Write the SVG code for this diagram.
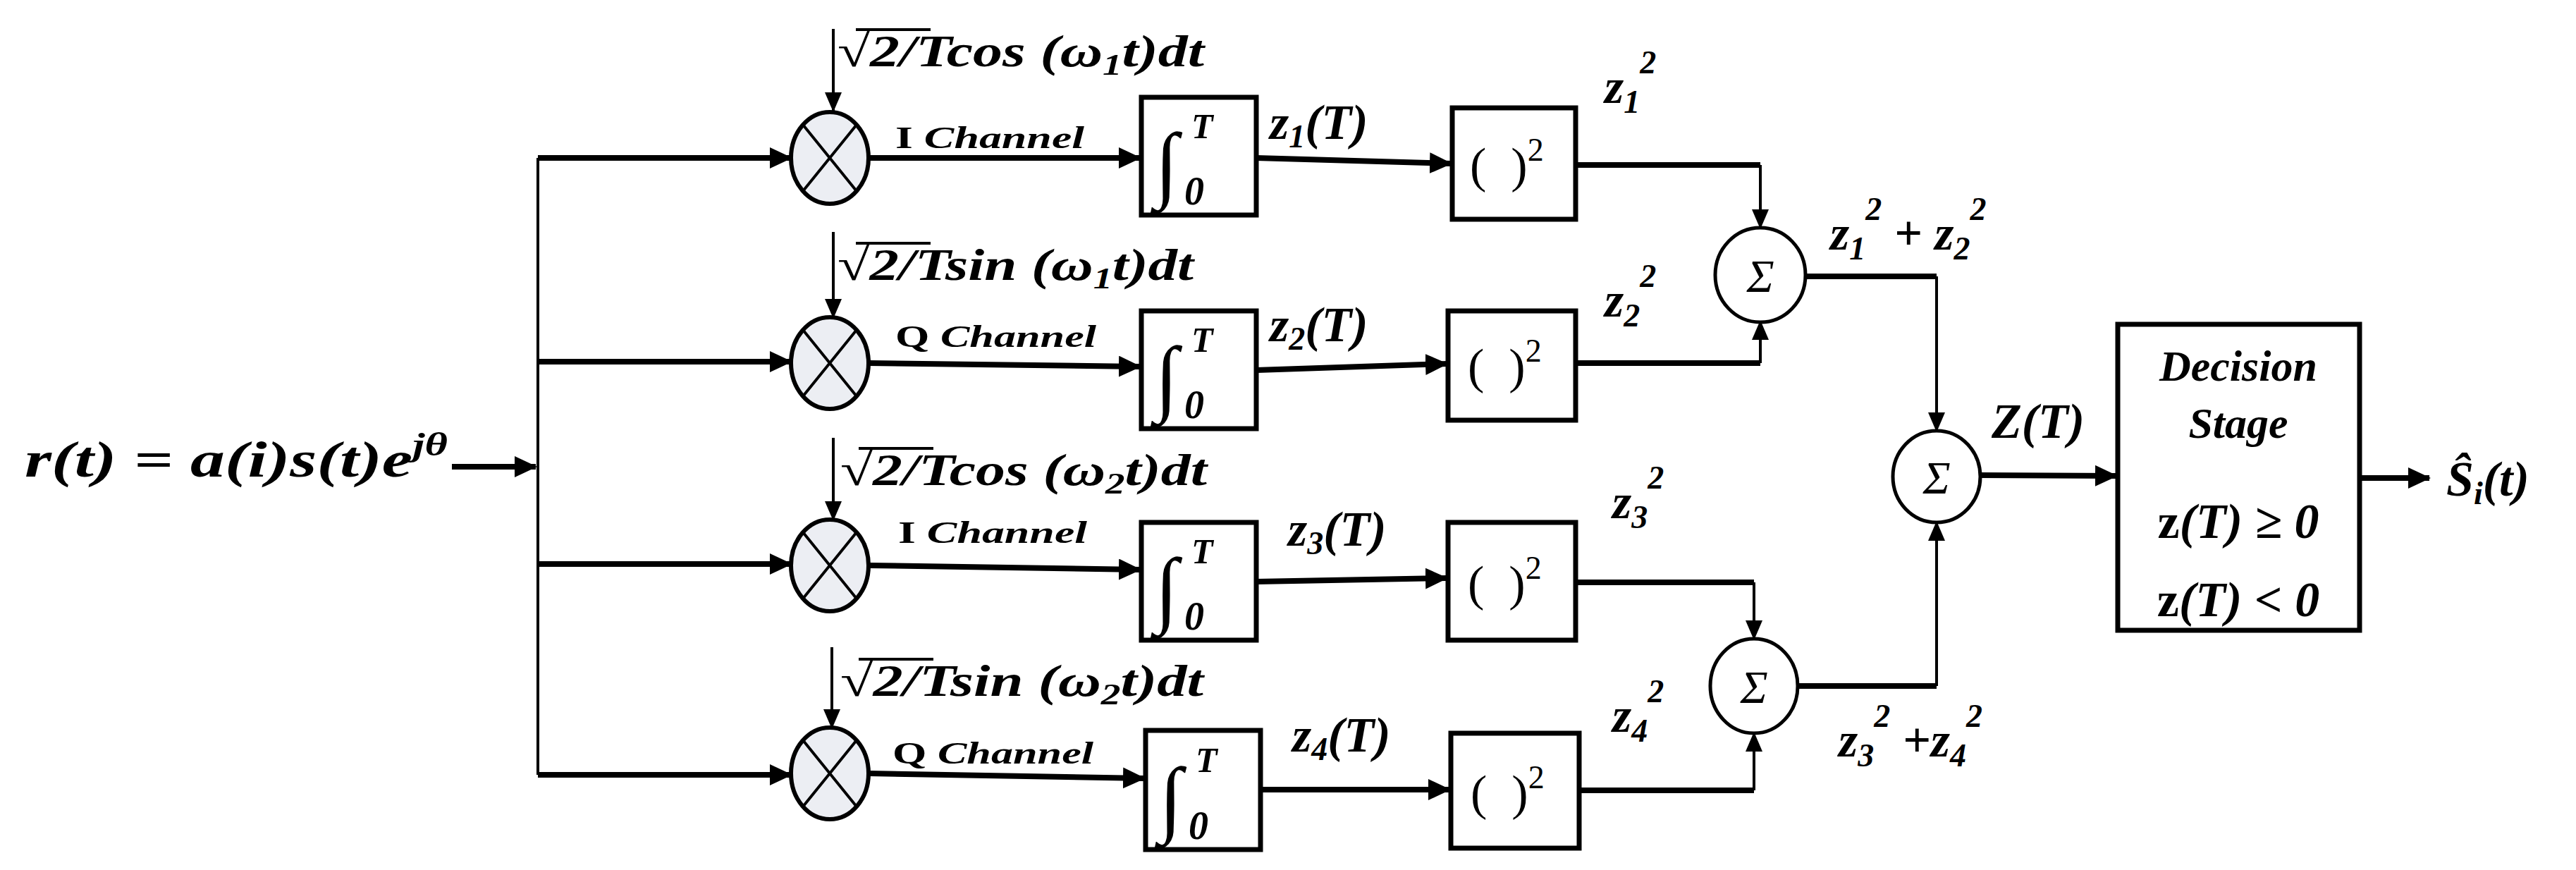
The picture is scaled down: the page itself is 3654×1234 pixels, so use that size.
<svg xmlns="http://www.w3.org/2000/svg" width="3654" height="1234" viewBox="0 0 3654 1234">
<defs>
<marker id="ah" markerUnits="userSpaceOnUse" markerWidth="34" markerHeight="34" refX="30" refY="15" orient="auto"><path d="M0,0 L32,15 L0,30 Z" fill="#000"/></marker>
<marker id="as" markerUnits="userSpaceOnUse" markerWidth="30" markerHeight="40" refX="26" refY="12" orient="auto"><path d="M0,0 L28,12 L0,24 Z" fill="#000"/></marker>
</defs>
<style>
.t{font-family:"Liberation Serif",serif;font-style:italic;font-weight:bold;fill:#000}
.u{font-family:"Liberation Serif",serif;fill:#000}
.b{fill:#fff;stroke:#000;stroke-width:7}
.m{fill:#eceef3;stroke:#000;stroke-width:6}
.s{fill:#fff;stroke:#000;stroke-width:5}
.w{stroke:#000;stroke-width:8;fill:none}
.n{stroke:#000;stroke-width:4;fill:none}
</style>
<rect width="3654" height="1234" fill="#fff"/>
<g id="connectors">
<path class="w" d="M641,662 H760" marker-end="url(#ah)"/>
<path class="n" d="M763,224 V1099"/>
<path class="w" d="M763,224 H1122" marker-end="url(#ah)"/>
<path class="w" d="M763,513 H1122" marker-end="url(#ah)"/>
<path class="w" d="M763,800 H1122" marker-end="url(#ah)"/>
<path class="w" d="M763,1099 H1122" marker-end="url(#ah)"/>
<path class="n" d="M1182,41 V157" marker-end="url(#as)"/>
<path class="n" d="M1182,329 V450" marker-end="url(#as)"/>
<path class="n" d="M1182,621 V737" marker-end="url(#as)"/>
<path class="n" d="M1180,918 V1032" marker-end="url(#as)"/>
<path class="w" d="M1233,224 L1617,224" marker-end="url(#ah)"/>
<path class="w" d="M1233,515 L1617,520" marker-end="url(#ah)"/>
<path class="w" d="M1233,802 L1617,808" marker-end="url(#ah)"/>
<path class="w" d="M1233,1097 L1623,1104" marker-end="url(#ah)"/>
<path class="w" d="M1782,224 L2058,232" marker-end="url(#ah)"/>
<path class="w" d="M1782,525 L2052,516" marker-end="url(#ah)"/>
<path class="w" d="M1782,825 L2052,820" marker-end="url(#ah)"/>
<path class="w" d="M1788,1120 L2056,1120" marker-end="url(#ah)"/>
<path class="w" d="M2235,234 H2497"/><path class="n" d="M2497,234 V323" marker-end="url(#as)"/>
<path class="w" d="M2235,515 H2497"/><path class="n" d="M2497,515 V456" marker-end="url(#as)"/>
<path class="w" d="M2235,826 H2488"/><path class="n" d="M2488,826 V906" marker-end="url(#as)"/>
<path class="w" d="M2240,1121 H2488"/><path class="n" d="M2488,1121 V1040" marker-end="url(#as)"/>
<path class="w" d="M2561,392 H2747"/><path class="n" d="M2747,392 V611" marker-end="url(#as)"/>
<path class="w" d="M2550,973 H2747"/><path class="n" d="M2747,973 V741" marker-end="url(#as)"/>
<path class="w" d="M2809,674 L3002,675" marker-end="url(#ah)"/>
<path class="w" d="M3347,678 H3446" marker-end="url(#ah)"/>
</g>
<g id="input"><text class="t" x="35" y="676" font-size="72" textLength="600" lengthAdjust="spacingAndGlyphs">r(t) = a(i)s(t)e<tspan dy="-30" font-size="46">jθ</tspan></text></g>
<g id="osc1"><text class="t" x="1188" y="94" font-size="64" textLength="520" lengthAdjust="spacingAndGlyphs"><tspan class="u" font-style="normal">√</tspan>2/Tcos (ω<tspan dy="12" font-size="42">1</tspan><tspan dy="-12">t)dt</tspan></text><path class="n" d="M1214,42 H1320"/></g>
<g id="osc2"><text class="t" x="1188" y="397" font-size="64" textLength="505" lengthAdjust="spacingAndGlyphs"><tspan class="u" font-style="normal">√</tspan>2/Tsin (ω<tspan dy="12" font-size="42">1</tspan><tspan dy="-12">t)dt</tspan></text><path class="n" d="M1214,345 H1320"/></g>
<g id="osc3"><text class="t" x="1192" y="688" font-size="64" textLength="520" lengthAdjust="spacingAndGlyphs"><tspan class="u" font-style="normal">√</tspan>2/Tcos (ω<tspan dy="12" font-size="42">2</tspan><tspan dy="-12">t)dt</tspan></text><path class="n" d="M1218,636 H1324"/></g>
<g id="osc4"><text class="t" x="1192" y="987" font-size="64" textLength="515" lengthAdjust="spacingAndGlyphs"><tspan class="u" font-style="normal">√</tspan>2/Tsin (ω<tspan dy="12" font-size="42">2</tspan><tspan dy="-12">t)dt</tspan></text><path class="n" d="M1218,935 H1324"/></g>
<g id="mult1"><ellipse class="m" cx="1177" cy="224" rx="55" ry="65"/><path class="n" d="M1139,177 L1215,271 M1215,177 L1139,271"/><text class="t" x="1270" y="210" font-size="44" textLength="268" lengthAdjust="spacingAndGlyphs"><tspan font-style="normal">I </tspan>Channel</text></g>
<g id="mult2"><ellipse class="m" cx="1177" cy="515" rx="55" ry="65"/><path class="n" d="M1139,468 L1215,562 M1215,468 L1139,562"/><text class="t" x="1270" y="492" font-size="44" textLength="285" lengthAdjust="spacingAndGlyphs"><tspan font-style="normal">Q </tspan>Channel</text></g>
<g id="mult3"><ellipse class="m" cx="1177" cy="802" rx="55" ry="65"/><path class="n" d="M1139,755 L1215,849 M1215,755 L1139,849"/><text class="t" x="1274" y="770" font-size="44" textLength="268" lengthAdjust="spacingAndGlyphs"><tspan font-style="normal">I </tspan>Channel</text></g>
<g id="mult4"><ellipse class="m" cx="1177" cy="1097" rx="55" ry="65"/><path class="n" d="M1139,1050 L1215,1144 M1215,1050 L1139,1144"/><text class="t" x="1266" y="1083" font-size="44" textLength="285" lengthAdjust="spacingAndGlyphs"><tspan font-style="normal">Q </tspan>Channel</text></g>
<g id="int1"><rect class="b" x="1619" y="138" width="163" height="167"/><text class="u" x="1638" y="272" font-size="120" font-style="italic">∫</text><text class="t" x="1690" y="196" font-size="50">T</text><text class="t" x="1680" y="290" font-size="56">0</text></g>
<g id="int2"><rect class="b" x="1619" y="441" width="163" height="167"/><text class="u" x="1638" y="575" font-size="120" font-style="italic">∫</text><text class="t" x="1690" y="499" font-size="50">T</text><text class="t" x="1680" y="593" font-size="56">0</text></g>
<g id="int3"><rect class="b" x="1619" y="741" width="163" height="167"/><text class="u" x="1638" y="875" font-size="120" font-style="italic">∫</text><text class="t" x="1690" y="799" font-size="50">T</text><text class="t" x="1680" y="893" font-size="56">0</text></g>
<g id="int4"><rect class="b" x="1625" y="1036" width="163" height="169"/><text class="u" x="1644" y="1172" font-size="120" font-style="italic">∫</text><text class="t" x="1696" y="1095" font-size="50">T</text><text class="t" x="1686" y="1190" font-size="56">0</text></g>
<g id="lbl-z"><text class="t" x="1801" y="197" font-size="70">z<tspan dy="12" font-size="46">1</tspan><tspan dy="-12">(T)</tspan></text>
<text class="t" x="1801" y="484" font-size="70">z<tspan dy="12" font-size="46">2</tspan><tspan dy="-12">(T)</tspan></text>
<text class="t" x="1827" y="774" font-size="70">z<tspan dy="12" font-size="46">3</tspan><tspan dy="-12">(T)</tspan></text>
<text class="t" x="1833" y="1066" font-size="70">z<tspan dy="12" font-size="46">4</tspan><tspan dy="-12">(T)</tspan></text></g>
<g id="sq1"><rect class="b" x="2060" y="153" width="175" height="158"/><text class="u" x="2085" y="258" font-size="70">(&#160;&#160;)<tspan dy="-30" font-size="46">2</tspan></text></g>
<g id="sq2"><rect class="b" x="2054" y="441" width="181" height="155"/><text class="u" x="2082" y="543" font-size="70">(&#160;&#160;)<tspan dy="-30" font-size="46">2</tspan></text></g>
<g id="sq3"><rect class="b" x="2054" y="741" width="181" height="167"/><text class="u" x="2082" y="851" font-size="70">(&#160;&#160;)<tspan dy="-30" font-size="46">2</tspan></text></g>
<g id="sq4"><rect class="b" x="2058" y="1040" width="182" height="163"/><text class="u" x="2086" y="1148" font-size="70">(&#160;&#160;)<tspan dy="-30" font-size="46">2</tspan></text></g>
<g id="lbl-sq"><text class="t" x="2276" y="146" font-size="70">z<tspan dy="14" font-size="46">1</tspan><tspan dy="-56" font-size="46">2</tspan></text>
<text class="t" x="2276" y="449" font-size="70">z<tspan dy="14" font-size="46">2</tspan><tspan dy="-56" font-size="46">2</tspan></text>
<text class="t" x="2287" y="735" font-size="70">z<tspan dy="14" font-size="46">3</tspan><tspan dy="-56" font-size="46">2</tspan></text>
<text class="t" x="2287" y="1038" font-size="70">z<tspan dy="14" font-size="46">4</tspan><tspan dy="-56" font-size="46">2</tspan></text>
<text class="t" x="2596" y="354" font-size="70">z<tspan dy="14" font-size="46">1</tspan><tspan dy="-56" font-size="46">2</tspan><tspan dy="42"> + z</tspan><tspan dy="14" font-size="46">2</tspan><tspan dy="-56" font-size="46">2</tspan></text>
<text class="t" x="2608" y="1073" font-size="70">z<tspan dy="14" font-size="46">3</tspan><tspan dy="-56" font-size="46">2</tspan><tspan dy="42"> +z</tspan><tspan dy="14" font-size="46">4</tspan><tspan dy="-56" font-size="46">2</tspan></text></g>
<g id="sum1"><ellipse class="s" cx="2497" cy="390" rx="64" ry="67"/><text class="u" font-style="italic" x="2497" y="414" font-size="66" text-anchor="middle">Σ</text></g>
<g id="sum2"><ellipse class="s" cx="2488" cy="973" rx="62" ry="67"/><text class="u" font-style="italic" x="2488" y="997" font-size="66" text-anchor="middle">Σ</text></g>
<g id="sum3"><ellipse class="s" cx="2747" cy="676" rx="62" ry="65"/><text class="u" font-style="italic" x="2747" y="700" font-size="66" text-anchor="middle">Σ</text></g>
<text class="t" x="2825" y="621" font-size="70">Z(T)</text>
<g id="decision"><rect class="b" x="3004" y="460" width="343" height="434"/>
<text class="t" x="3175" y="540" font-size="62" text-anchor="middle">Decision</text>
<text class="t" x="3175" y="621" font-size="62" text-anchor="middle">Stage</text>
<text class="t" x="3175" y="763" font-size="70" text-anchor="middle"><tspan font-style="normal">z</tspan>(T) ≥ 0</text>
<text class="t" x="3175" y="874" font-size="70" text-anchor="middle"><tspan font-style="normal">z</tspan>(T) &lt; 0</text></g>
<g id="output"><text class="t" x="3470" y="703" font-size="70">Ŝ<tspan dy="12" font-size="46">i</tspan><tspan dy="-12">(t)</tspan></text></g>
</svg>
